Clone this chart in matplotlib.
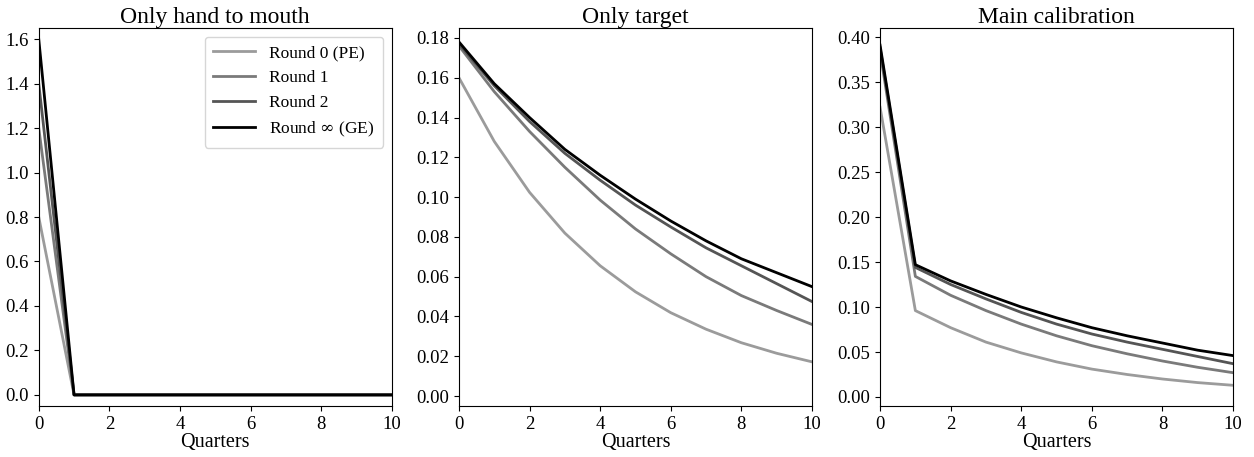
import matplotlib
matplotlib.use("Agg")
import matplotlib.pyplot as plt

plt.rcParams['font.family'] = ['Liberation Serif', 'DejaVu Serif']
plt.rcParams['mathtext.fontset'] = 'dejavuserif'

quarters = list(range(11))
labels = ["Round 0 (PE)", "Round 1", "Round 2", r"Round $\infty$ (GE)"]
colors = ["#9b9b9b", "#7a7a7a", "#555555", "#000000"]

# only hand to mouth
htm_r0 = [0.80, 0, 0, 0, 0, 0, 0, 0, 0, 0, 0]
htm_r1 = [1.20, 0, 0, 0, 0, 0, 0, 0, 0, 0, 0]
htm_r2 = [1.40, 0, 0, 0, 0, 0, 0, 0, 0, 0, 0]
htm_inf = [1.60, 0, 0, 0, 0, 0, 0, 0, 0, 0, 0]

# only target
tgt_r0 = [0.160, 0.128, 0.1024, 0.0819, 0.0655, 0.0524, 0.0419, 0.0336, 0.0268, 0.0215, 0.0172]
tgt_r1 = [0.176, 0.153, 0.133, 0.115, 0.0985, 0.084, 0.0715, 0.060, 0.0505, 0.043, 0.036]
tgt_r2 = [0.177, 0.156, 0.138, 0.122, 0.1085, 0.096, 0.085, 0.0745, 0.0655, 0.0565, 0.0475]
tgt_inf = [0.178, 0.157, 0.140, 0.124, 0.111, 0.099, 0.088, 0.078, 0.069, 0.062, 0.055]

# main calibration
main_r0 = [0.322, 0.096, 0.077, 0.061, 0.049, 0.039, 0.031, 0.025, 0.020, 0.016, 0.013]
main_r1 = [0.384, 0.134, 0.113, 0.096, 0.081, 0.068, 0.057, 0.048, 0.040, 0.033, 0.027]
main_r2 = [0.388, 0.144, 0.125, 0.109, 0.094, 0.081, 0.070, 0.061, 0.053, 0.045, 0.037]
main_inf = [0.391, 0.147, 0.129, 0.114, 0.100, 0.088, 0.077, 0.068, 0.060, 0.052, 0.046]

panels = [
    ("Only hand to mouth", [htm_r0, htm_r1, htm_r2, htm_inf], (-0.05, 1.65)),
    ("Only target", [tgt_r0, tgt_r1, tgt_r2, tgt_inf], (-0.005, 0.185)),
    ("Main calibration", [main_r0, main_r1, main_r2, main_inf], (-0.01, 0.41)),
]

fig = plt.figure(figsize=(12.54, 4.57), dpi=100)
lefts = [0.0309, 0.366, 0.7018]
for i, (title, series, ylim) in enumerate(panels):
    ax = fig.add_axes([lefts[i], 0.1116, 0.2815, 0.8271])
    for s, lab, c in zip(series, labels, colors):
        ax.plot(quarters, s, color=c, lw=2, label=lab)
    ax.set_xlim(0, 10)
    ax.set_ylim(*ylim)
    ax.set_title(title, fontsize=17, pad=2)
    ax.set_xlabel("Quarters", fontsize=14.5, labelpad=0)
    ax.tick_params(labelsize=13.5)
    if i == 0:
        ax.legend(loc="upper right", fontsize=12.5, handlelength=2.4, borderpad=0.5)
    if i == 1:
        ax.set_yticks([0.0, 0.02, 0.04, 0.06, 0.08, 0.10, 0.12, 0.14, 0.16, 0.18])

fig.savefig("out.png", dpi=100)
